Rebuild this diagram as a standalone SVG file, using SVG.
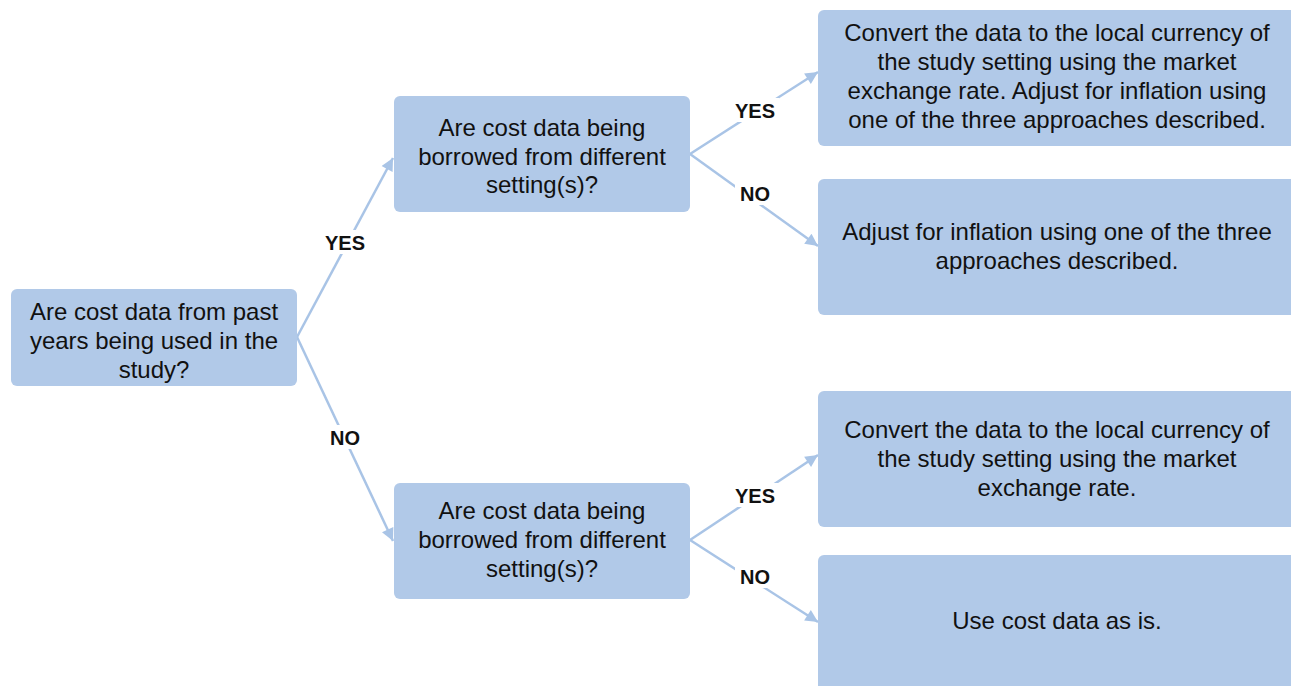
<svg xmlns="http://www.w3.org/2000/svg" width="1291" height="686" viewBox="0 0 1291 686">
<style>
.box{fill:#b1c9e8;}
.t{font-family:"Liberation Sans",Arial,sans-serif;font-size:24px;fill:#111;text-anchor:middle;}
.l{font-family:"Liberation Sans",Arial,sans-serif;font-size:20px;font-weight:bold;fill:#111;text-anchor:middle;}
.c{stroke:#a9c4e6;stroke-width:2.5;fill:none;}
</style>
<defs>
<marker id="ah" viewBox="0 0 10 10" refX="10" refY="5" markerWidth="6.5" markerHeight="5" markerUnits="strokeWidth" orient="auto">
<path d="M0,0 L10,5 L0,10 z" fill="#a9c4e6"/>
</marker>
</defs>
<rect width="1291" height="686" fill="#fff"/>
<g id="connectors">
<line class="c" x1="297" y1="337" x2="393" y2="158" marker-end="url(#ah)"/>
<line class="c" x1="297" y1="337" x2="393" y2="541" marker-end="url(#ah)"/>
<line class="c" x1="690" y1="154" x2="818" y2="72" marker-end="url(#ah)"/>
<line class="c" x1="690" y1="154" x2="818" y2="246" marker-end="url(#ah)"/>
<line class="c" x1="690" y1="540" x2="818" y2="455" marker-end="url(#ah)"/>
<line class="c" x1="690" y1="540" x2="818" y2="622" marker-end="url(#ah)"/>
<rect x="321" y="230" width="48" height="24" fill="#fff"/>
<text class="l" x="345" y="250">YES</text>
<rect x="325" y="425" width="40" height="24" fill="#fff"/>
<text class="l" x="345" y="445">NO</text>
<rect x="731" y="98" width="48" height="24" fill="#fff"/>
<text class="l" x="755" y="118">YES</text>
<rect x="735" y="181" width="40" height="24" fill="#fff"/>
<text class="l" x="755" y="201">NO</text>
<rect x="731" y="483" width="48" height="24" fill="#fff"/>
<text class="l" x="755" y="503">YES</text>
<rect x="735" y="564" width="40" height="24" fill="#fff"/>
<text class="l" x="755" y="584">NO</text>
</g>
<g id="root">
<rect class="box" x="11" y="289" width="286" height="97" rx="6"/>
<text class="t" x="154" y="320">Are cost data from past</text>
<text class="t" x="154" y="349">years being used in the</text>
<text class="t" x="154" y="378">study?</text>
</g>
<g id="q-top">
<rect class="box" x="394" y="96" width="296" height="116" rx="6"/>
<text class="t" x="542" y="136">Are cost data being</text>
<text class="t" x="542" y="165">borrowed from different</text>
<text class="t" x="542" y="193">setting(s)?</text>
</g>
<g id="q-bottom">
<rect class="box" x="394" y="483" width="296" height="116" rx="6"/>
<text class="t" x="542" y="519">Are cost data being</text>
<text class="t" x="542" y="548">borrowed from different</text>
<text class="t" x="542" y="577">setting(s)?</text>
</g>
<g id="r1">
<rect class="box" x="818" y="10" width="478" height="136" rx="6"/>
<text class="t" x="1057" y="41">Convert the data to the local currency of</text>
<text class="t" x="1057" y="70">the study setting using the market</text>
<text class="t" x="1057" y="99">exchange rate. Adjust for inflation using</text>
<text class="t" x="1057" y="128">one of the three approaches described.</text>
</g>
<g id="r2">
<rect class="box" x="818" y="179" width="478" height="136" rx="6"/>
<text class="t" x="1057" y="240">Adjust for inflation using one of the three</text>
<text class="t" x="1057" y="269">approaches described.</text>
</g>
<g id="r3">
<rect class="box" x="818" y="391" width="478" height="136" rx="6"/>
<text class="t" x="1057" y="438">Convert the data to the local currency of</text>
<text class="t" x="1057" y="467">the study setting using the market</text>
<text class="t" x="1057" y="496">exchange rate.</text>
</g>
<g id="r4">
<rect class="box" x="818" y="555" width="478" height="140" rx="6"/>
<text class="t" x="1057" y="629">Use cost data as is.</text>
</g>
</svg>
